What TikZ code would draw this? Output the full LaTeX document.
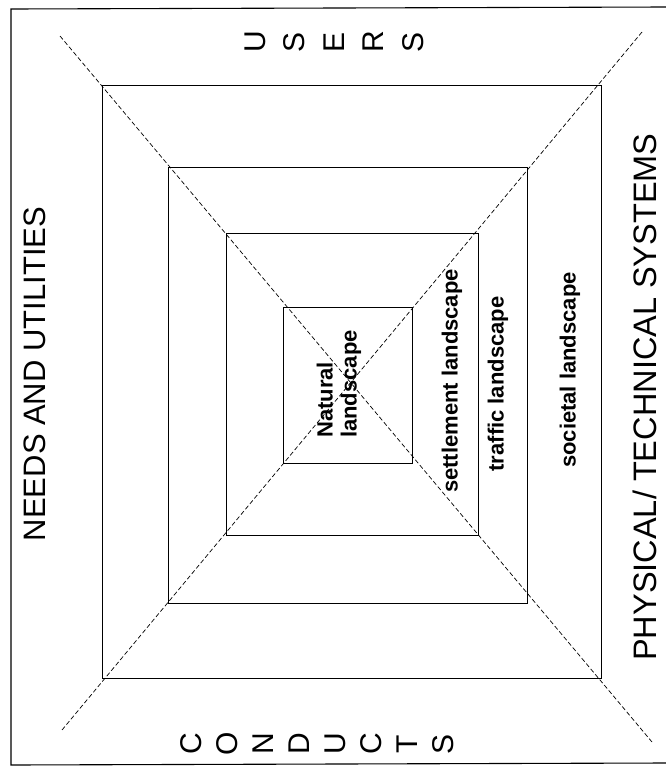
\documentclass[tikz,border=0pt]{standalone}
\usepackage{fontspec}
\setmainfont{Liberation Sans}
\usepackage{tikz}

\tikzset{
  layer/.style={line width=0.8pt},
  axis/.style={line width=0.7pt,dash pattern=on 4.5pt off 2.5pt},
  sidelabel/.style={rotate=90,inner sep=0pt,font=\fontsize{31}{37}\selectfont},
  letters/.style={rotate=90,inner sep=0pt,align=center},
  landlabel/.style={rotate=90,inner sep=0pt,font=\fontsize{22}{24}\selectfont\bfseries}
}

\begin{document}
\begin{tikzpicture}[x=1pt,y=-1pt]
  \useasboundingbox (0,0) rectangle (665,769);

  % frame (right side runs off the page)
  \draw[line width=1.1pt] (666,7) -- (11,9) -- (11,765) -- (666,763);

  % nested landscapes
  \draw[layer] (102,85) rectangle (601,678);
  \draw[layer] (168,167) rectangle (527,603);
  \draw[layer] (226,233) rectangle (478,535);
  \draw[layer] (283,307) rectangle (412,463);

  % diagonals
  \coordinate (tl) at (60,36);
  \coordinate (br) at (652,742);
  \coordinate (tr) at (642,32);
  \coordinate (bl) at (62,730);
  \draw[axis] (tl) -- (br);
  \draw[axis] (tr) -- (bl);

  % landscape labels
  \node[landlabel,align=left] (natural) at (339,384) {Natural\\landscape};
  \node[landlabel] (settlement) at (452,381) {settlement landscape};
  \node[landlabel] (traffic) at (498,384) {traffic landscape};
  \node[landlabel] (societal) at (570,370) {societal landscape};

  % outer labels
  \node[sidelabel] (needs) at (35,374) {NEEDS AND UTILITIES};
  \node[sidelabel,font=\fontsize{32.5}{38}\selectfont] (physical) at (645,397) {PHYSICAL/ TECHNICAL SYSTEMS};
  \node[letters,font=\fontsize{30}{39.5}\selectfont] (users) at (334,42) {U\\S\\E\\R\\S};
  \node[letters,font=\fontsize{30}{36}\selectfont] (conducts) at (317,744) {C\\O\\N\\D\\U\\C\\T\\S};
\end{tikzpicture}
\end{document}
